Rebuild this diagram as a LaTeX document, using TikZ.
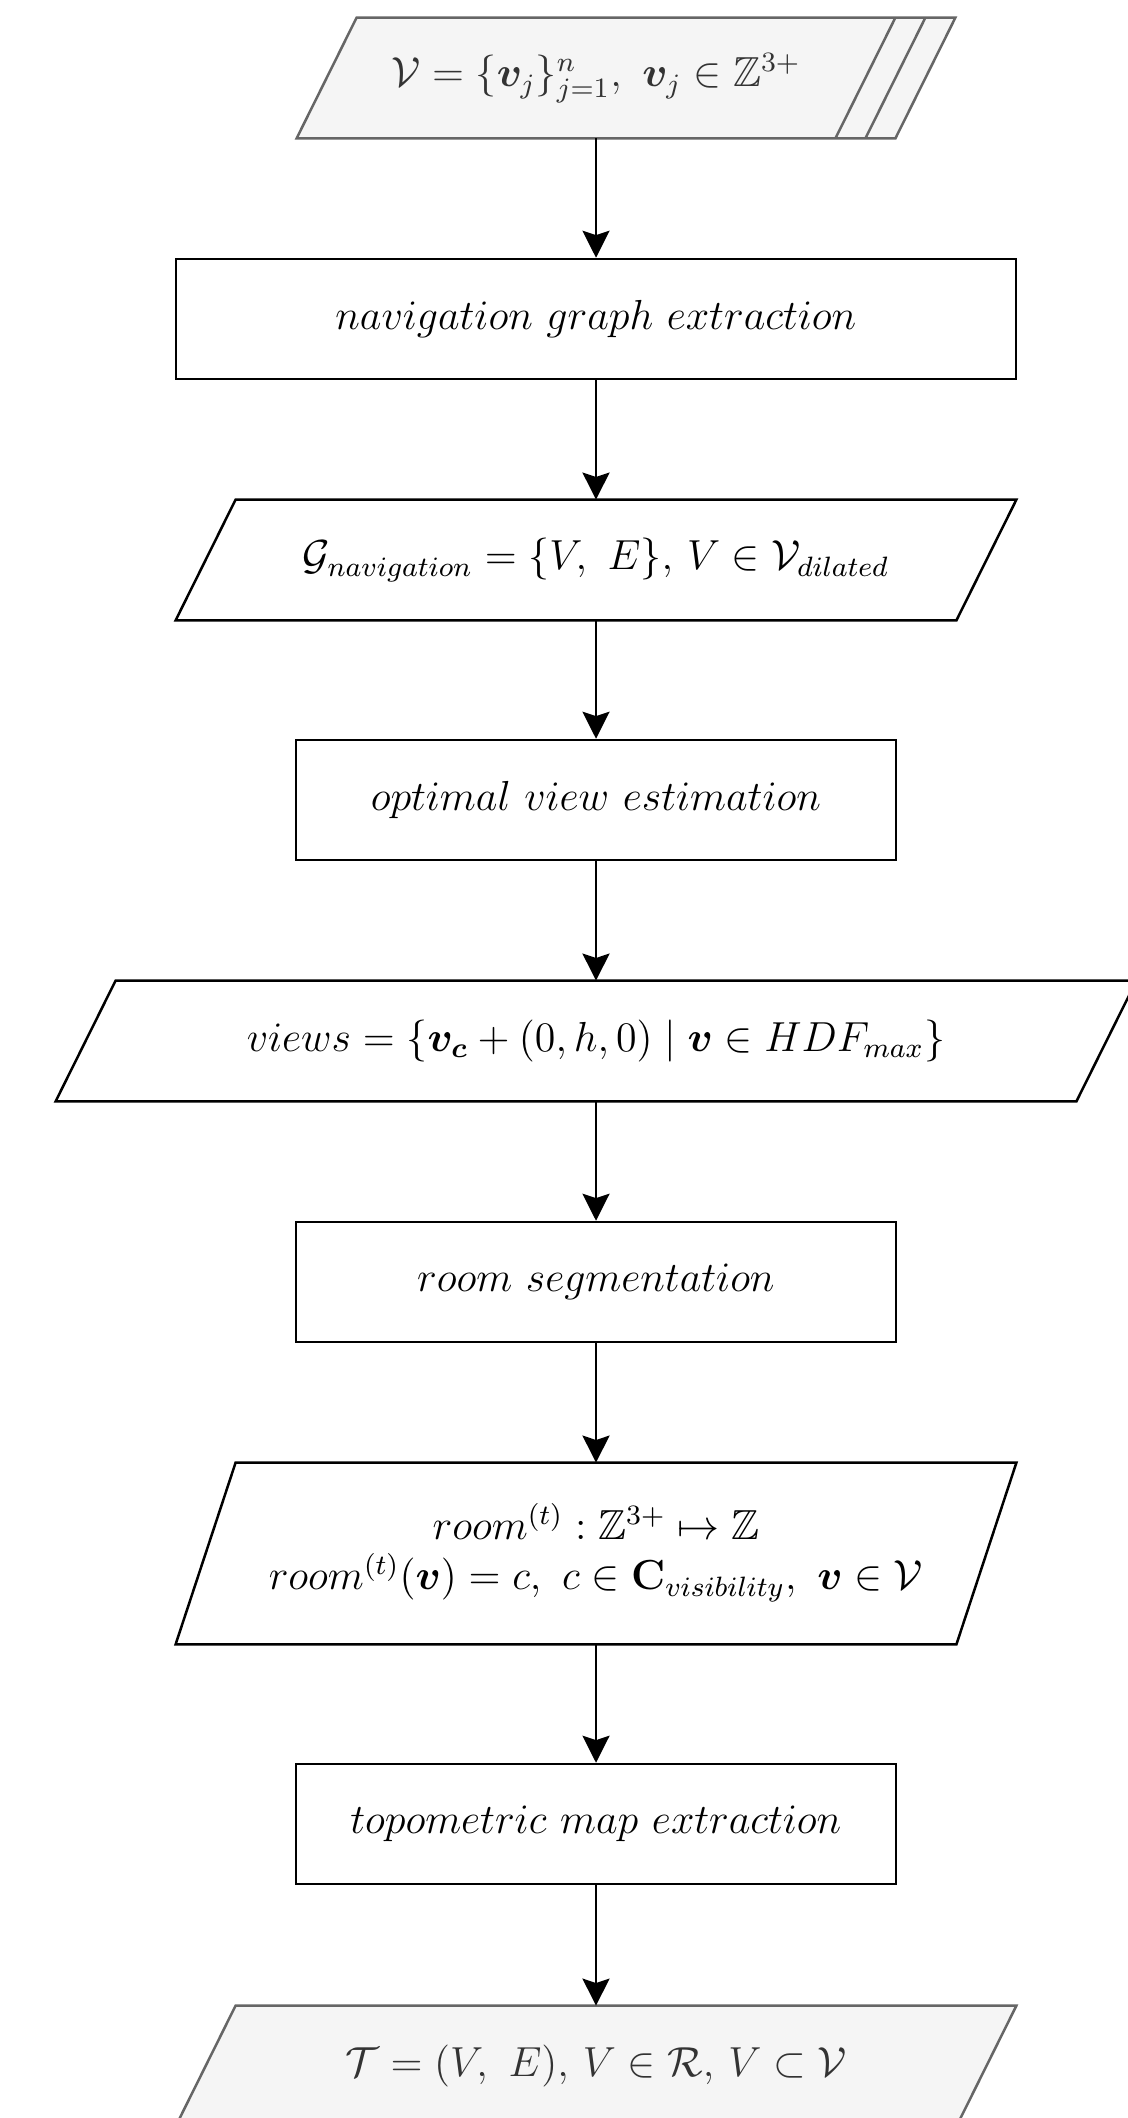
\documentclass[tikz,border=0pt]{standalone}
\usepackage{amsmath,amssymb,bm}
\usepackage{graphicx}
\usetikzlibrary{arrows.meta,calc,backgrounds}

\definecolor{iofill}{HTML}{F5F5F5}
\definecolor{iodraw}{HTML}{666666}
\definecolor{iotext}{HTML}{333333}

% enlarged label text, set in the 12pt design size
\newcommand{\lbl}[1]{\scalebox{1.75}{\fontsize{12}{13.5}\selectfont #1}}

\begin{document}
\begin{tikzpicture}[
  x=0.5pt, y=-0.5pt,
  every node/.style={inner sep=0pt, align=center},
  procbox/.style={draw=black, line width=1.25pt, minimum width=#1, minimum height=60pt},
  iobox/.style={minimum width=#1, minimum height=60pt},
  ioshape/.style={draw=black, fill=white, line width=1.25pt, line join=miter},
  grayshape/.style={draw=iodraw, fill=iofill, line width=1.25pt, line join=miter},
  flow/.style={line width=1.25pt, -{Stealth[length=13.5pt, width=13.5pt, inset=2.2pt]}}
]
\useasboundingbox (0,0) rectangle (1128,2118);
\clip (0,0) rectangle (1128,2118);

% nodes, top to bottom
\node[iobox=299pt, text=iotext] (vox) at (596,78)
  {\lbl{$\mathcal{V}=\{\bm{v}_j\}_{j=1}^{n},\ \bm{v}_j\in\mathbb{Z}^{3+}$}};
\node[procbox=420pt] (navx) at (596,319)
  {\lbl{$navigation\ graph\ extraction$}};
\node[iobox=420pt] (graph) at (596,560)
  {\lbl{$\mathcal{G}_{navigation}=\{V,\ E\},\,V\in\mathcal{V}_{dilated}$}};
\node[procbox=300pt] (optv) at (596,800)
  {\lbl{$optimal\ view\ estimation$}};
\node[iobox=540pt] (views) at (596,1041)
  {\lbl{$views=\left\{\bm{v_c}+(0,h,0)\;\middle|\;\bm{v}\in HDF_{max}\right\}$}};
\node[procbox=300pt] (rseg) at (596,1282)
  {\lbl{$room\ segmentation$}};
\node[iobox=420pt, minimum height=90.5pt] (room) at (596,1553.5)
  {\lbl{\begin{tabular}{@{}c@{}}
   $room^{(t)}:\mathbb{Z}^{3+}\mapsto\mathbb{Z}$\\
   $room^{(t)}(\bm{v})=c,\ c\in\mathbf{C}_{visibility},\ \bm{v}\in\mathcal{V}$
   \end{tabular}}};
\node[procbox=300pt] (topo) at (596,1824)
  {\lbl{$topometric\ map\ extraction$}};
\node[iobox=420pt, text=iotext] (tmap) at (596,2066)
  {\lbl{$\mathcal{T}=(V,\ E),\,V\in\mathcal{R},\,V\subset\mathcal{V}$}};

% parallelogram outlines behind the texts
\begin{scope}[on background layer]
  % stacked input data
  \draw[grayshape] (vox.south west) -- ($(vox.north west)+(60,0)$)
    -- ($(vox.north east)+(60,0)$) -- (vox.south east) -- cycle;
  \draw[iodraw, line width=1.25pt] (vox.north east) -- ($(vox.south east)+(-60,0)$);
  \draw[iodraw, line width=1.25pt] ($(vox.north east)+(30,0)$) -- ($(vox.south east)+(-30,0)$);
  \foreach \n in {graph,views,room}{
    \draw[ioshape] (\n.south west) -- ($(\n.north west)+(60,0)$)
      -- (\n.north east) -- ($(\n.south east)+(-60,0)$) -- cycle;
  }
  \draw[grayshape] (tmap.south west) -- ($(tmap.north west)+(60,0)$)
    -- (tmap.north east) -- ($(tmap.south east)+(-60,0)$) -- cycle;
\end{scope}

% connectors
\draw[flow] (vox.south) -- (navx.north);
\draw[flow] (navx.south) -- (graph.north);
\draw[flow] (graph.south) -- (optv.north);
\draw[flow] (optv.south) -- (views.north);
\draw[flow] (views.south) -- (rseg.north);
\draw[flow] (rseg.south) -- (room.north);
\draw[flow] (room.south) -- (topo.north);
\draw[flow] (topo.south) -- (tmap.north);
\end{tikzpicture}
\end{document}
